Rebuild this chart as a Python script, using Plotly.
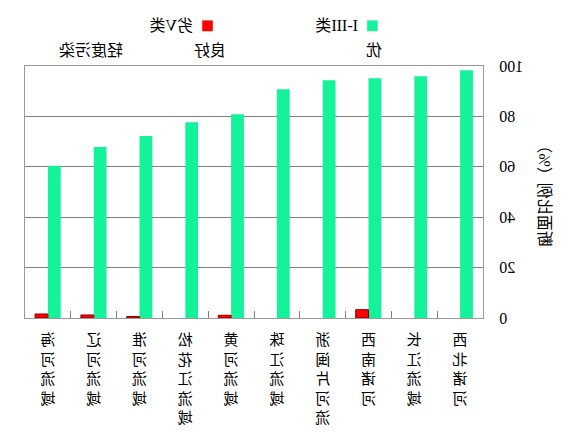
import plotly.graph_objects as go

# basins, left to right before the picture is mirrored
categories = ["西北诸河", "长江流域", "西南诸河", "浙闽片河流", "珠江流域",
              "黄河流域", "松花江流域", "淮河流域", "辽河流域", "海河流域"]
good = [98.3, 95.9, 95.1, 94.3, 90.8, 80.9, 77.7, 72.2, 67.9, 60.4]   # I-III类
bad = [0, 0, 3.3, 0, 0, 1.1, 0, 0.6, 1.2, 1.6]                        # 劣V类
y_ticks = [0, 20, 40, 60, 80, 100]

font = "Liberation Serif, Noto Sans CJK SC"
green = "#14F29A"
red = "#FF0000"

fig = go.Figure()
fig.add_trace(go.Bar(x=categories, y=good, name="I-III类",
                     marker=dict(color=green, line=dict(width=0))))
fig.add_trace(go.Bar(x=categories, y=bad, name="劣V类",
                     marker=dict(color=red,
                                 line=dict(color="#8B0000",
                                           width=[1 if v > 0 else 0 for v in bad]))))

fig.update_layout(
    width=568, height=438,
    margin=dict(l=85, r=25, t=66, b=117),
    paper_bgcolor="white", plot_bgcolor="white",
    barmode="group", bargap=0.44, bargroupgap=0,
    showlegend=False,
    font=dict(family=font, size=15, color="black"),
)

fig.update_xaxes(
    tickvals=categories,
    ticktext=["<br>".join(c) for c in categories],
    tickson="boundaries", ticks="inside", ticklen=7, tickcolor="#808080",
    showline=True, linecolor="#999999", mirror=True,
    tickfont=dict(size=15), tickangle=0, ticklabelstandoff=8,
)
fig.update_yaxes(
    range=[0, 100], tickvals=y_ticks,
    showgrid=True, gridcolor="#808080", gridwidth=1,
    showline=True, linecolor="#999999", mirror=True,
    ticks="", ticklabelstandoff=12,
    tickfont=dict(size=16),
    title=dict(text="断面比例（%）", font=dict(size=16), standoff=11),
)

# legend keys and the grade labels above the plot
fig.add_shape(type="rect", xref="paper", yref="paper",
              x0=0.230, x1=0.253, y0=1.138, y1=1.181,
              fillcolor=green, line=dict(width=0))
fig.add_shape(type="rect", xref="paper", yref="paper",
              x0=0.590, x1=0.613, y0=1.138, y1=1.181,
              fillcolor=red, line=dict(width=0))
fig.add_annotation(text="I-III类", xref="paper", yref="paper", x=0.268, y=1.161,
                   xanchor="left", yanchor="middle", showarrow=False, font=dict(size=16))
fig.add_annotation(text="劣V类", xref="paper", yref="paper", x=0.628, y=1.161,
                   xanchor="left", yanchor="middle", showarrow=False, font=dict(size=16))
for label, xp in [("优", 0.237), ("良好", 0.596), ("轻度污染", 0.856)]:
    fig.add_annotation(text=label, xref="paper", yref="paper", x=xp, y=1.063,
                       xanchor="center", yanchor="middle", showarrow=False,
                       font=dict(size=16))

# the reference image is a left-right mirror of the chart
flip = ("document.body.style.margin='0';"
        "document.getElementById('{plot_id}').style.transform='scaleX(-1)';")
fig.write_html("out.html", post_script=flip, config={"displayModeBar": False})
